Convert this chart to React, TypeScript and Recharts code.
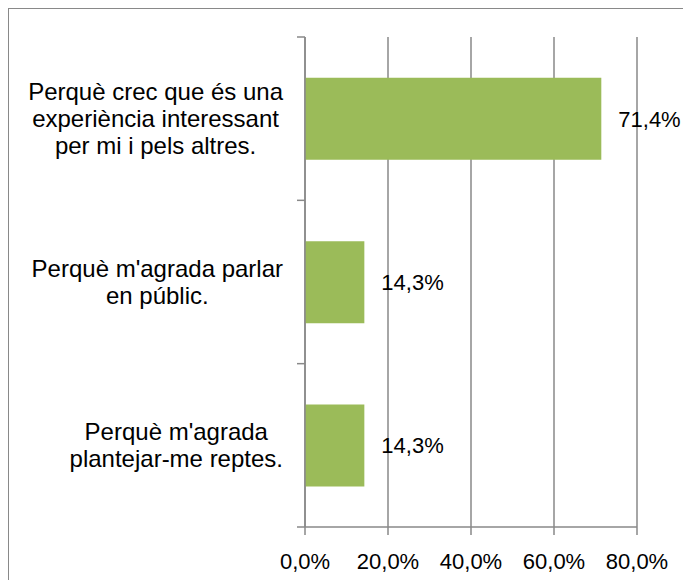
import React from "react";
import {
  BarChart,
  Bar,
  XAxis,
  YAxis,
  CartesianGrid,
  LabelList,
} from "recharts";

const categories = [
  "Perquè crec que és una experiència interessant per mi i pels altres.",
  "Perquè m'agrada parlar en públic.",
  "Perquè m'agrada plantejar-me reptes.",
];

// wrapped lines of each category label, as in the picture
const categoryLines = [
  ["Perquè crec que és una", "experiència interessant", "per mi i pels altres."],
  ["Perquè m'agrada parlar", "en públic."],
  ["Perquè m'agrada", "plantejar-me reptes."],
];

const percentages = [71.4, 14.3, 14.3];
const xTicks = [0, 20, 40, 60, 80];

const data = categories.map((name, i) => ({
  name,
  value: percentages[i],
}));

const FONT = "'Liberation Sans', Arial, sans-serif";
const FONT_SIZE = 22;
const CAT_FONT_SIZE = 24;
const LINE_H = 27;
const GRAY = "#898989";

const CHART_W = 674;
const CHART_H = 571;
const Y_AXIS_W = 296;
const MARGIN = { top: 28, right: 46, left: 0, bottom: 0 };
const X_AXIS_H = 53;
const PLOT_H = CHART_H - MARGIN.top - MARGIN.bottom - X_AXIS_H;
const BAND = PLOT_H / categories.length;

let ctx: CanvasRenderingContext2D | null = null;
function textWidth(s: string) {
  if (!ctx) {
    ctx = document.createElement("canvas").getContext("2d");
  }
  if (!ctx) return s.length * CAT_FONT_SIZE * 0.5;
  ctx.font = `${CAT_FONT_SIZE}px ${FONT}`;
  return ctx.measureText(s).width;
}

const fmt = (v: number) => `${v.toFixed(1).replace(".", ",")}%`;

function CategoryTick(props: any) {
  const { y, payload, index } = props;
  const lines: string[] =
    categoryLines[categories.indexOf(payload.value)] || [payload.value];
  const axisX = Y_AXIS_W;
  const rightEdge = axisX - 22;
  const blockW = Math.max(...lines.map(textWidth));
  const cx = rightEdge - blockW / 2;
  const n = lines.length;
  return (
    <g>
      <line
        x1={axisX - 8}
        x2={axisX}
        y1={y - BAND / 2}
        y2={y - BAND / 2}
        stroke={GRAY}
        strokeWidth={1.5}
      />
      {index === categories.length - 1 && (
        <line
          x1={axisX - 8}
          x2={axisX}
          y1={y + BAND / 2}
          y2={y + BAND / 2}
          stroke={GRAY}
          strokeWidth={1.5}
        />
      )}
      <text
        x={cx}
        y={y - ((n - 1) / 2) * LINE_H}
        textAnchor="middle"
        fill="#000"
        fontSize={CAT_FONT_SIZE}
        fontFamily={FONT}
      >
        {lines.map((l, i) => (
          <tspan key={i} x={cx} dy={i === 0 ? "0.35em" : LINE_H}>
            {l}
          </tspan>
        ))}
      </text>
    </g>
  );
}

export default function App() {
  return (
    <div
      style={{
        width: 675,
        height: 572,
        boxSizing: "border-box",
        borderTop: `1px solid ${GRAY}`,
        borderLeft: `1px solid ${GRAY}`,
        background: "#fff",
      }}
    >
      <BarChart
        width={CHART_W}
        height={CHART_H}
        data={data}
        layout="vertical"
        margin={MARGIN}
        barCategoryGap="25%"
      >
        <CartesianGrid horizontal={false} stroke={GRAY} strokeWidth={1.5} />
        <XAxis
          type="number"
          domain={[0, 80]}
          ticks={xTicks}
          tickFormatter={fmt}
          height={X_AXIS_H}
          tickSize={8}
          tickMargin={18}
          axisLine={{ stroke: GRAY, strokeWidth: 1.5 }}
          tickLine={{ stroke: GRAY, strokeWidth: 1.5 }}
          tick={{ fill: "#000", fontSize: FONT_SIZE, fontFamily: FONT }}
          interval={0}
        />
        <YAxis
          type="category"
          dataKey="name"
          width={Y_AXIS_W}
          axisLine={{ stroke: GRAY, strokeWidth: 1.5 }}
          tickLine={false}
          tick={<CategoryTick />}
          interval={0}
        />
        <Bar dataKey="value" fill="#9BBB59" isAnimationActive={false}>
          <LabelList
            dataKey="value"
            position="right"
            offset={17}
            formatter={(v: any) => fmt(Number(v))}
            fill="#000"
            fontSize={FONT_SIZE}
            fontFamily={FONT}
          />
        </Bar>
      </BarChart>
    </div>
  );
}
